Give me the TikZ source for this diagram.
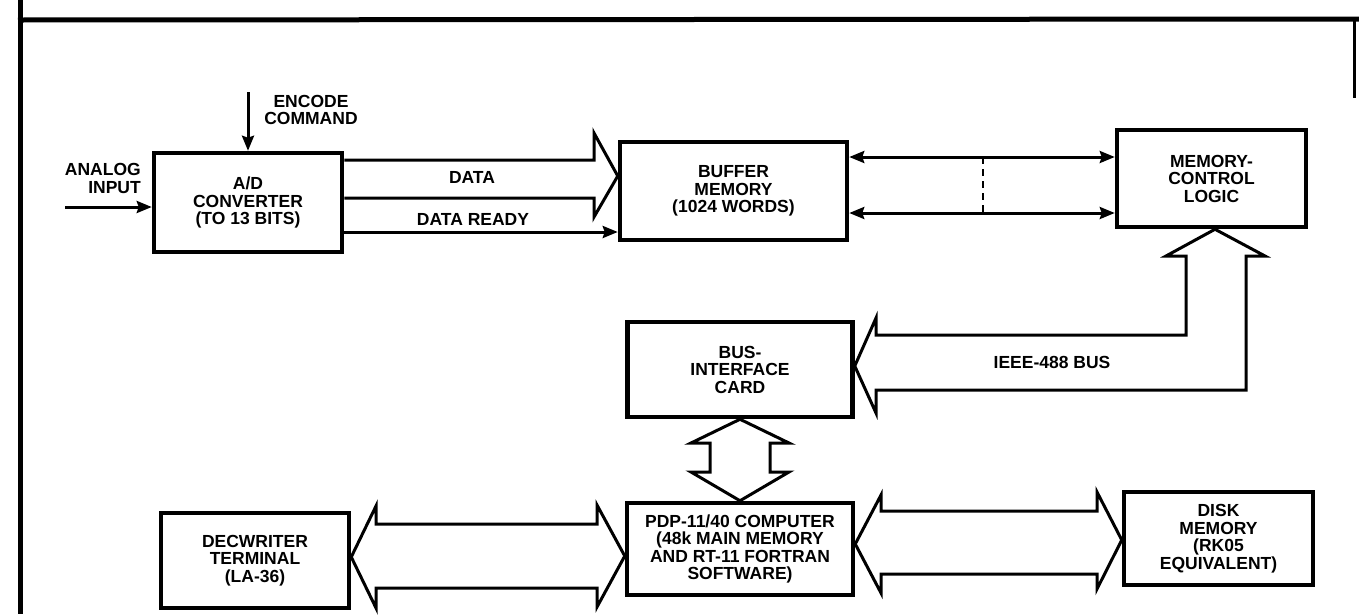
\documentclass[tikz,border=0pt]{standalone}
\usepackage{fontspec}
\setmainfont{Liberation Sans}
\usetikzlibrary{arrows.meta,calc}

\begin{document}
\begin{tikzpicture}[
    x=1pt, y=-1pt,
    font=\fontsize{17.5}{17.5}\selectfont\bfseries,
    >={Stealth[length=15pt,width=12pt,inset=2pt]},
    block/.style={rectangle, draw, line width=4.5pt, align=center, inner sep=0pt},
    sig/.style={->, line width=3pt},
    sigboth/.style={<->, line width=3pt},
    hollow/.style={draw, line width=3pt, fill=white, line join=miter},
    frame/.style={line width=5pt}
]
\useasboundingbox (0,0) rectangle (1359,614);

\draw[frame] (20,0) -- (20,614);
\draw[frame] (18,20) -- (1359,19);
\draw[line width=3pt] (1354,19) -- (1354,98);

\node[block, minimum width=188pt, minimum height=99pt] (adc) at (248,202.5) {A/D\\CONVERTER\\(TO 13 BITS)};
\node[block, minimum width=227pt, minimum height=98pt] (buf) at (733.5,191) {BUFFER\\MEMORY\\(1024 WORDS)};
\node[block, minimum width=189pt, minimum height=97pt] (mcl) at (1211.5,178.5) {MEMORY-\\CONTROL\\LOGIC};
\node[block, minimum width=225pt, minimum height=95pt] (bic) at (740,369.5) {BUS-\\INTERFACE\\CARD};
\node[block, minimum width=226pt, minimum height=92pt] (pdp) at (740,549) {PDP-11/40 COMPUTER\\(48k MAIN MEMORY\\AND RT-11 FORTRAN\\SOFTWARE)};
\node[block, minimum width=188pt, minimum height=95pt] (dec) at (255,560.5) {DECWRITER\\TERMINAL\\(LA-36)};
\node[block, minimum width=189pt, minimum height=93pt] (dsk) at (1218.5,538.5) {DISK\\MEMORY\\(RK05\\EQUIVALENT)};

\coordinate (ain) at (65,207);
\coordinate (enc) at (248,92);

\draw[sig] (ain) -- (ain -| adc.west);
\draw[sig] (enc) -- (enc |- adc.north);
\draw[hollow] (adc.east |- 0,160) -- (594,160) -- (594,133) -- (buf.west |- 0,176) -- (594,217) -- (594,198) -- (adc.east |- 0,198);
\draw[sig] (adc.east |- 0,232) -- (buf.west |- 0,232);
\draw[sigboth] (buf.east |- 0,157) -- (mcl.west |- 0,157);
\draw[sigboth] (buf.east |- 0,213) -- (mcl.west |- 0,213);
\draw[line width=2pt, dash pattern=on 7pt off 5pt] (983,157) -- (983,213);

\draw[hollow] (bic.east |- 0,366) -- (876,318) -- (876,335) -- (1186,335) -- (1186,256) -- (1166,256) -- (mcl.south -| 1215,0) -- (1265,256) -- (1246,256) -- (1246,390) -- (876,390) -- (876,413) -- cycle;
\draw[hollow] (bic.south) -- (789,443) -- (770,443) -- (770,472) -- (789,472) -- (pdp.north) -- (691,472) -- (710,472) -- (710,443) -- (691,443) -- cycle;
\draw[hollow] (dec.east |- 0,557) -- (376,506) -- (376,524) -- (597,524) -- (597,505) -- (pdp.west |- 0,556) -- (597,607) -- (597,588) -- (376,588) -- (376,608) -- cycle;
\draw[hollow] (pdp.east |- 0,544) -- (881,495) -- (881,511) -- (1097,511) -- (1097,492) -- (dsk.west |- 0,540) -- (1097,589) -- (1097,574) -- (881,574) -- (881,593) -- cycle;

\node[anchor=east, align=right, inner sep=0pt] (ain-lbl) at (141,178.5) {ANALOG\\INPUT};
\node[align=center] (enc-lbl) at (311,110) {ENCODE\\COMMAND};
\node (data-lbl) at (472,177) {DATA};
\node (rdy-lbl) at (473,219) {DATA READY};
\node (bus-lbl) at (1052,362) {IEEE-488 BUS};
\end{tikzpicture}
\end{document}
